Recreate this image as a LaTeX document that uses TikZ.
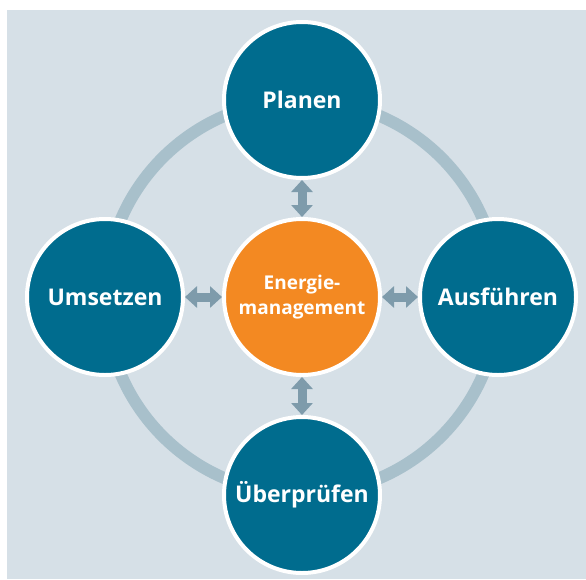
\documentclass[tikz,border=0pt]{standalone}
\usepackage{fontspec}
\setmainfont{Open Sans}
\usetikzlibrary{arrows.meta}
\definecolor{bgblue}{RGB}{214,224,231}
\definecolor{ringblue}{RGB}{168,192,203}
\definecolor{petrol}{RGB}{0,108,142}
\definecolor{sorange}{RGB}{243,137,34}
\definecolor{arrowgrey}{RGB}{126,155,171}
\begin{document}
\begin{tikzpicture}[x=1pt, y=-1pt,
    phase/.style={circle, fill=petrol, draw=white, line width=4pt, minimum size=156pt, inner sep=0pt, text=white, font=\fontsize{23}{28}\selectfont\bfseries},
    core/.style={phase, fill=sorange, font=\fontsize{19}{25}\selectfont\bfseries, align=center},
    link/.style={arrowgrey, line width=9pt, {Triangle[width=21pt,length=12pt]}-{Triangle[width=21pt,length=12pt]}}]
    \useasboundingbox (0,0) rectangle (586,579);
    \fill[bgblue] (7,10) rectangle (586,579);

    \coordinate (mid) at (302,297);
    \draw[ringblue, line width=12pt] (mid) circle (197);

    \node[core] (mgmt) at (mid) {Energie-\\management};
    \node[phase] (plan) at (302,100) {Planen};
    \node[phase] (do) at (498,297) {Ausführen};
    \node[phase] (check) at (302,495) {Überprüfen};
    \node[phase] (act) at (105,297) {Umsetzen};

    \draw[link] (plan) -- (mgmt);
    \draw[link] (do) -- (mgmt);
    \draw[link] (check) -- (mgmt);
    \draw[link] (act) -- (mgmt);
\end{tikzpicture}
\end{document}
